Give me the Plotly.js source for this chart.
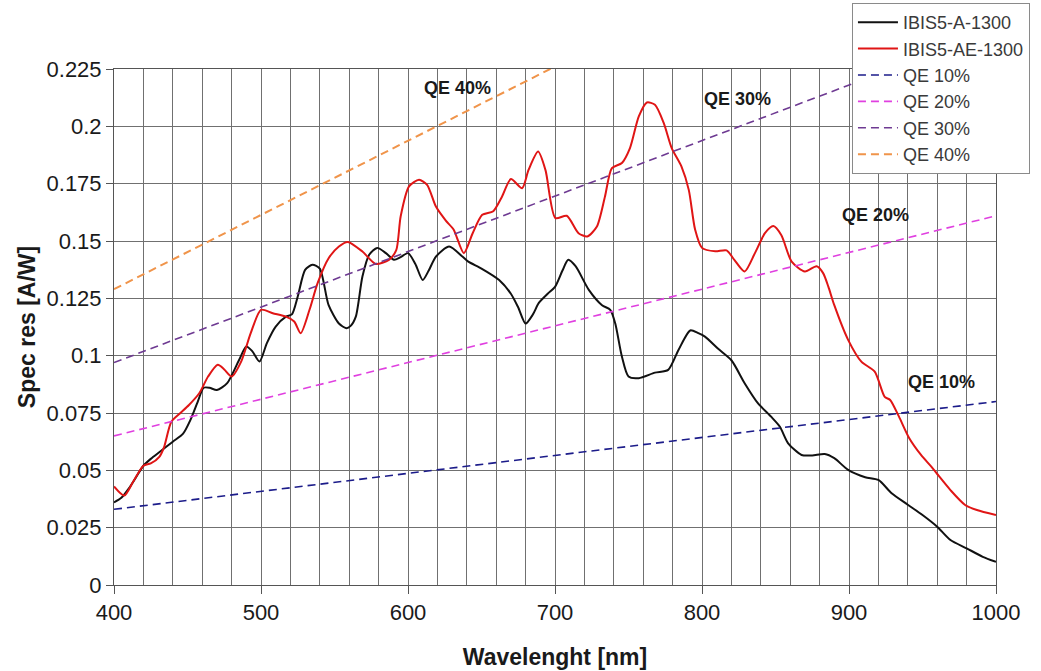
<!DOCTYPE html>
<html>
<head>
<meta charset="utf-8">
<script src="https://cdn.plot.ly/plotly-3.0.1.min.js"></script>
<style>html,body{margin:0;padding:0;background:#fff;}#chart{width:1041px;height:671px;}</style>
</head>
<body>
<div id="chart"></div>
<script>
// IBIS5-A-1300 (black)
const aWave = [400,405,410,415,420,425,431,440,447,452,457,461,465,470,477,485,490,494,499,504,510,517,521,525,530,535,540,546,553,558,561,564.5,569,573.6,579,585,590.5,595,600,605,610,614,619,628,637,641,650,662,670,675,680,685,689,695,700,705,709,714,723,732,737.6,741,745.5,750,757,768,777,784,792,797.5,802,811,820,829,838,847,853,858.6,867.7,875,883.5,890,899.4,911,920,929,940,950,960,969,980,991,1000];
const aResp = [0.036,0.038,0.042,0.047,0.052,0.055,0.058,0.0625,0.066,0.072,0.080,0.086,0.086,0.085,0.088,0.098,0.104,0.102,0.0975,0.1055,0.1127,0.117,0.118,0.1258,0.1374,0.1396,0.138,0.122,0.114,0.112,0.113,0.117,0.1345,0.144,0.147,0.1447,0.1418,0.143,0.1447,0.140,0.133,0.137,0.1432,0.1476,0.1432,0.141,0.138,0.133,0.127,0.121,0.114,0.118,0.123,0.127,0.130,0.137,0.1418,0.139,0.1287,0.122,0.120,0.114,0.0996,0.0909,0.0902,0.0926,0.0938,0.1025,0.111,0.1098,0.1083,0.103,0.098,0.088,0.0793,0.0734,0.069,0.0618,0.0567,0.0565,0.0571,0.0553,0.0502,0.047,0.0458,0.040,0.035,0.0305,0.0254,0.0196,0.016,0.0123,0.0101];

// IBIS5-AE-1300 (red)
const aeWave = [400,407,413,420,425,431,434,439,445,451,458,464,470.6,475,480,486.5,493,500,508,517,522.6,527,533,538.5,546,553,559,569,578,587,592,595,600.7,607.5,613,619,625.6,631,638,644,650.5,658,664,670,677.6,682,688.5,693.5,700.3,708,716,722,728.5,734,738.7,745.5,751,757,762.5,768,774,779.4,786,791,795.3,800,809,816.7,822,829,836,842.8,848.5,854,861,870,878,882.4,886,890,899.4,908.4,917.5,924.3,928,934,941,949,956,960,969,979,987,1000];
const aeResp = [0.043,0.039,0.045,0.052,0.053,0.056,0.060,0.0712,0.0749,0.0785,0.0836,0.0909,0.096,0.094,0.0909,0.0974,0.1098,0.120,0.1185,0.117,0.1149,0.1098,0.120,0.1316,0.1425,0.1476,0.1496,0.1454,0.140,0.1418,0.146,0.1607,0.1738,0.1767,0.1745,0.165,0.159,0.155,0.1447,0.1534,0.1614,0.163,0.1694,0.177,0.173,0.181,0.189,0.181,0.160,0.161,0.1534,0.152,0.1563,0.1694,0.1818,0.184,0.1905,0.2043,0.2104,0.2094,0.2014,0.1905,0.1825,0.1723,0.155,0.147,0.1455,0.1459,0.1418,0.1367,0.1447,0.1534,0.1565,0.1525,0.141,0.1367,0.139,0.136,0.130,0.122,0.1069,0.0974,0.093,0.082,0.0807,0.0734,0.064,0.0567,0.0516,0.0484,0.0414,0.0349,0.0327,0.0305];

// QE reference lines (end points)
const qe10Wave = [400, 1000], qe10Resp = [0.033, 0.080];
const qe20Wave = [400, 1000], qe20Resp = [0.065, 0.161];
const qe30Wave = [400, 929],  qe30Resp = [0.097, 0.225];
const qe40Wave = [400, 706],  qe40Resp = [0.129, 0.228];

const seriesNames = ['IBIS5-A-1300','IBIS5-AE-1300','QE 10%','QE 20%','QE 30%','QE 40%'];
const labelTexts = ['QE 40%','QE 30%','QE 20%','QE 10%'];
const labelWave = [634, 824, 918, 963];
const labelResp = [0.2168, 0.2120, 0.1614, 0.0886];
const yTickVals = [0,0.025,0.05,0.075,0.1,0.125,0.15,0.175,0.2,0.225];
const yTickText = ['0','0.025','0.05','0.075','0.1','0.125','0.15','0.175','0.2','0.225'];
const xTickVals = [400,500,600,700,800,900,1000];
const xTickText = ['400','500','600','700','800','900','1000'];

const FONT = 'Liberation Sans, Arial, sans-serif';
const dashPat = '8px,5px';

const traces = [
  {x:aWave, y:aResp, name:seriesNames[0], legendgroup:'g1', mode:'lines', line:{color:'#111111', width:2, shape:'spline', smoothing:0.7}},
  {x:aeWave, y:aeResp, name:seriesNames[1], legendgroup:'g2', mode:'lines', line:{color:'#e01515', width:2, shape:'spline', smoothing:0.7}},
  {x:qe10Wave, y:qe10Resp, name:seriesNames[2], legendgroup:'g3', mode:'lines', line:{color:'#1c1c8a', width:1.6, dash:dashPat}},
  {x:qe20Wave, y:qe20Resp, name:seriesNames[3], legendgroup:'g4', mode:'lines', line:{color:'#e040e0', width:1.6, dash:dashPat}},
  {x:qe30Wave, y:qe30Resp, name:seriesNames[4], legendgroup:'g5', mode:'lines', line:{color:'#6e3a92', width:1.6, dash:dashPat}},
  {x:qe40Wave, y:qe40Resp, name:seriesNames[5], legendgroup:'g6', mode:'lines', line:{color:'#f0944a', width:2, dash:dashPat}}
];

const gridCol = '#707070';
const layout = {
  width:1041, height:671,
  margin:{l:114, r:45, t:69, b:86, autoexpand:false},
  paper_bgcolor:'#ffffff', plot_bgcolor:'#ffffff',
  font:{family:FONT, color:'#1a1a1a'},
  showlegend:true,
  legend:{xref:'container', yref:'container', x:0.8184, y:0.9955, xanchor:'left', yanchor:'top',
          bgcolor:'#ffffff', bordercolor:'#8a8a8a', borderwidth:1,
          font:{family:FONT, size:18, color:'#3a3a3a'}, itemwidth:40, tracegroupgap:6, traceorder:'normal'},
  xaxis:{range:[400,1000], tickvals:xTickVals, ticktext:xTickText, ticks:'outside', ticklen:8, tickcolor:'#555',
         showgrid:true, gridcolor:gridCol, gridwidth:1,
         minor:{dtick:20, tick0:400, showgrid:true, gridcolor:gridCol, gridwidth:1, ticks:''},
         showline:true, linecolor:'#555', linewidth:1, mirror:true, zeroline:false,
         tickfont:{family:FONT, size:22, color:'#1a1a1a'},
         title:{text:'<b>Wavelenght [nm]</b>', font:{family:FONT, size:23, color:'#1a1a1a'}, standoff:24}},
  yaxis:{range:[0,0.225], tickvals:yTickVals, ticktext:yTickText, ticks:'outside', ticklen:7, tickcolor:'#555',
         showgrid:true, gridcolor:gridCol, gridwidth:1,
         showline:true, linecolor:'#555', linewidth:1, mirror:true, zeroline:false,
         tickfont:{family:FONT, size:22, color:'#1a1a1a'},
         title:{text:'<b>Spec res [A/W]</b>', font:{family:FONT, size:23, color:'#1a1a1a'}, standoff:4}},
  annotations: labelTexts.map((t, i) => ({x:labelWave[i], y:labelResp[i], xref:'x', yref:'y', text:'<b>' + t + '</b>',
    showarrow:false, font:{family:FONT, size:18, color:'#1a1a1a'}}))
};

Plotly.newPlot('chart', traces, layout, {displayModeBar:false, staticPlot:true});
</script>
</body>
</html>
